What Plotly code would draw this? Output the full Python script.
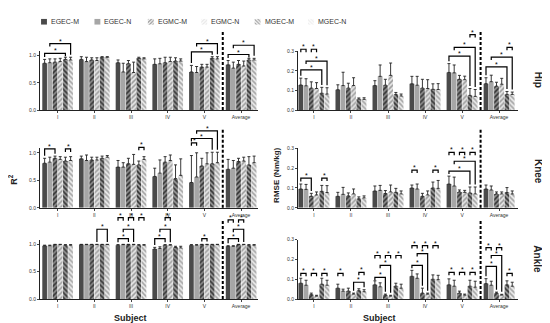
import plotly.graph_objects as go

W, H = 550, 323
series = ["EGEC-M", "EGEC-N", "EGMC-M", "EGMC-N", "MGEC-M", "MGEC-N"]
subjects = ["I", "II", "III", "IV", "V", "Average"]

# values per subject group (series order as above)
hip_r2 = [[0.86, 0.87, 0.88, 0.89, 0.93, 0.92], [0.93, 0.89, 0.92, 0.91, 0.97, 0.97],
          [0.87, 0.70, 0.85, 0.69, 0.95, 0.94], [0.84, 0.85, 0.87, 0.89, 0.90, 0.90],
          [0.70, 0.69, 0.79, 0.79, 0.95, 0.94], [0.83, 0.77, 0.84, 0.81, 0.92, 0.92]]
hip_r2_err = [[0.07, 0.07, 0.06, 0.06, 0.04, 0.05], [0.05, 0.08, 0.04, 0.05, 0.01, 0.01],
              [0.05, 0.16, 0.06, 0.19, 0.02, 0.02], [0.10, 0.10, 0.10, 0.08, 0.06, 0.04],
              [0.12, 0.11, 0.05, 0.05, 0.03, 0.04], [0.08, 0.11, 0.07, 0.09, 0.03, 0.03]]
hip_rmse = [[0.128, 0.124, 0.112, 0.110, 0.086, 0.082], [0.104, 0.125, 0.112, 0.125, 0.056, 0.055],
            [0.125, 0.172, 0.127, 0.177, 0.080, 0.072], [0.134, 0.127, 0.112, 0.110, 0.106, 0.105],
            [0.192, 0.190, 0.157, 0.155, 0.075, 0.070], [0.135, 0.145, 0.122, 0.132, 0.080, 0.080]]
hip_rmse_err = [[0.035, 0.036, 0.032, 0.030, 0.030, 0.032], [0.025, 0.068, 0.025, 0.040, 0.006, 0.008],
                [0.025, 0.058, 0.030, 0.063, 0.010, 0.010], [0.038, 0.045, 0.045, 0.045, 0.028, 0.030],
                [0.045, 0.040, 0.020, 0.018, 0.035, 0.035], [0.030, 0.033, 0.020, 0.030, 0.015, 0.012]]
knee_r2 = [[0.81, 0.83, 0.90, 0.88, 0.85, 0.86], [0.89, 0.86, 0.87, 0.87, 0.90, 0.92],
           [0.74, 0.74, 0.80, 0.79, 0.78, 0.88], [0.57, 0.63, 0.83, 0.86, 0.53, 0.59],
           [0.46, 0.56, 0.76, 0.80, 0.80, 0.82], [0.70, 0.72, 0.84, 0.85, 0.78, 0.82]]
knee_r2_err = [[0.09, 0.09, 0.04, 0.05, 0.07, 0.07], [0.05, 0.10, 0.05, 0.05, 0.04, 0.03],
               [0.12, 0.08, 0.10, 0.18, 0.07, 0.05], [0.15, 0.24, 0.10, 0.10, 0.25, 0.30],
               [0.49, 0.44, 0.14, 0.20, 0.21, 0.19], [0.18, 0.14, 0.06, 0.07, 0.15, 0.12]]
knee_rmse = [[0.095, 0.093, 0.058, 0.065, 0.083, 0.077], [0.058, 0.068, 0.060, 0.070, 0.045, 0.050],
             [0.085, 0.088, 0.072, 0.080, 0.078, 0.070], [0.100, 0.095, 0.058, 0.065, 0.100, 0.098],
             [0.120, 0.110, 0.080, 0.078, 0.075, 0.070], [0.095, 0.090, 0.070, 0.070, 0.077, 0.070]]
knee_rmse_err = [[0.025, 0.025, 0.015, 0.015, 0.030, 0.035], [0.020, 0.035, 0.015, 0.025, 0.010, 0.010],
                 [0.025, 0.025, 0.015, 0.035, 0.020, 0.015], [0.015, 0.025, 0.015, 0.020, 0.030, 0.040],
                 [0.040, 0.045, 0.010, 0.010, 0.030, 0.035], [0.020, 0.020, 0.010, 0.010, 0.025, 0.015]]
ankle_r2 = [[0.97, 0.97, 0.99, 0.99, 0.98, 0.98], [0.99, 0.99, 0.99, 0.99, 0.99, 0.99],
            [0.98, 0.99, 0.99, 0.99, 0.98, 0.98], [0.91, 0.92, 0.98, 0.98, 0.94, 0.93],
            [0.98, 0.98, 0.99, 0.99, 0.99, 0.99], [0.96, 0.96, 0.99, 0.99, 0.98, 0.98]]
ankle_r2_err = [[0.01, 0.01, 0.005, 0.005, 0.01, 0.01], [0.005, 0.005, 0.005, 0.005, 0.005, 0.005],
                [0.01, 0.005, 0.005, 0.005, 0.01, 0.01], [0.03, 0.03, 0.01, 0.01, 0.02, 0.03],
                [0.01, 0.01, 0.005, 0.005, 0.005, 0.005], [0.01, 0.01, 0.005, 0.005, 0.01, 0.01]]
ankle_rmse = [[0.080, 0.070, 0.022, 0.015, 0.075, 0.070], [0.055, 0.040, 0.040, 0.025, 0.042, 0.037],
              [0.072, 0.062, 0.020, 0.015, 0.065, 0.055], [0.115, 0.105, 0.030, 0.025, 0.100, 0.098],
              [0.072, 0.065, 0.030, 0.020, 0.065, 0.060], [0.078, 0.070, 0.030, 0.020, 0.072, 0.065]]
ankle_rmse_err = [[0.025, 0.025, 0.008, 0.004, 0.030, 0.025], [0.020, 0.010, 0.015, 0.005, 0.010, 0.010],
                  [0.020, 0.020, 0.005, 0.004, 0.015, 0.020], [0.030, 0.022, 0.025, 0.005, 0.022, 0.022],
                  [0.030, 0.030, 0.010, 0.005, 0.030, 0.030], [0.025, 0.020, 0.005, 0.004, 0.020, 0.020]]

# significance comparisons: (subject index, series a, series b, bracket level)
hip_r2_sig = [(0, 0, 4, 1.04), (0, 1, 5, 1.22), (4, 0, 4, 1.07), (4, 1, 5, 1.22), (5, 0, 4, 1.02), (5, 1, 5, 1.19)]
hip_rmse_sig = [(0, 0, 1, 0.31), (0, 2, 3, 0.31), (0, 0, 4, 0.205), (0, 1, 5, 0.25), (4, 0, 4, 0.275),
                (4, 1, 5, 0.32), (4, 4, 5, 0.385), (5, 0, 4, 0.22), (5, 1, 5, 0.27), (5, 4, 5, 0.32)]
knee_r2_sig = [(0, 0, 2, 1.07), (0, 4, 5, 1.07), (2, 4, 5, 1.10), (4, 0, 1, 1.18), (4, 0, 4, 1.26), (4, 1, 5, 1.40)]
knee_rmse_sig = [(0, 0, 2, 0.15), (0, 4, 5, 0.15), (3, 0, 1, 0.19), (3, 4, 5, 0.19), (4, 0, 4, 0.185),
                 (4, 1, 5, 0.235), (4, 0, 1, 0.28), (4, 2, 3, 0.28), (4, 4, 5, 0.28)]
ankle_r2_sig = [(1, 3, 5, 1.27), (2, 0, 2, 1.10), (2, 1, 3, 1.27), (2, 0, 1, 1.48), (2, 2, 3, 1.48),
                (2, 4, 5, 1.48), (3, 0, 2, 1.10), (3, 1, 3, 1.27), (3, 2, 3, 1.48), (4, 2, 3, 1.10),
                (5, 0, 2, 1.10), (5, 1, 3, 1.27), (5, 0, 1, 1.44), (5, 2, 3, 1.44)]
ankle_rmse_sig = [(0, 0, 1, 0.13), (0, 2, 3, 0.13), (0, 4, 5, 0.13), (1, 0, 1, 0.13), (1, 3, 5, 0.085),
                  (1, 4, 5, 0.135), (2, 0, 2, 0.11), (2, 1, 3, 0.17), (2, 0, 1, 0.22), (2, 2, 3, 0.22),
                  (2, 4, 5, 0.22), (3, 0, 2, 0.17), (3, 1, 3, 0.23), (3, 0, 1, 0.27), (3, 2, 3, 0.27),
                  (3, 4, 5, 0.27), (4, 0, 1, 0.135), (4, 2, 3, 0.135), (4, 4, 5, 0.135), (5, 0, 2, 0.165),
                  (5, 1, 3, 0.22), (5, 0, 1, 0.26), (5, 2, 3, 0.26), (5, 4, 5, 0.13)]

panels = [  # (row, col, values, errors, significance)
    (0, 0, hip_r2, hip_r2_err, hip_r2_sig), (0, 1, hip_rmse, hip_rmse_err, hip_rmse_sig),
    (1, 0, knee_r2, knee_r2_err, knee_r2_sig), (1, 1, knee_rmse, knee_rmse_err, knee_rmse_sig),
    (2, 0, ankle_r2, ankle_r2_err, ankle_r2_sig), (2, 1, ankle_rmse, ankle_rmse_err, ankle_rmse_sig),
]
row_labels = ["Hip", "Knee", "Ankle"]

# styles
FONT = "Liberation Sans, Arial, sans-serif"
bar_colors = ["#4a4a4a", "#a6a6a6", "#8a8a8a", "#e4e4e4", "#9a9a9a", "#ececec"]
pat_shapes = ["", "", "/", "/", "\\", "\\"]
pat_fg = ["#4a4a4a", "#a6a6a6", "#333333", "#9c9c9c", "#353535", "#a4a4a4"]
BARGAP = 0.15
col_px = {0: (32, 250), 1: (290, 510)}
row_px = {0: (41, 101), 1: (140, 200.5), 2: (233, 293.5)}
xr = {0: [-0.48, 5.46], 1: [-0.43, 5.51]}
yr = {0: [0, 1.08], 1: [0, 0.3]}
dash_top = {0: 1.45, 1: 0.40}
ticks_y = {0: ([0, 0.5, 1.0], ["0.0", "0.5", "1.0"]), 1: ([0, 0.1, 0.2, 0.3], ["0.0", "0.1", "0.2", "0.3"])}


def px_xy(col, row, xd, yd):
    x0, x1 = col_px[col]
    a, b = xr[col]
    ytop, ybot = row_px[row]
    c, d = yr[col]
    return x0 + (xd - a) / (b - a) * (x1 - x0), ybot - (yd - c) / (d - c) * (ybot - ytop)


def bar_x(g, s):
    gw = 1 - BARGAP
    return g - gw / 2 + (s + 0.5) * gw / 6


def pattern(s):
    return dict(shape=pat_shapes[s], bgcolor=bar_colors[s], fgcolor=pat_fg[s], size=3.5,
                solidity=0.45, fillmode="replace")


fig = go.Figure()
shapes, annotations = [], []
layout_axes = {}

for pi, (row, col, vals, errs, sig) in enumerate(panels):
    idx = pi + 1
    xa = "x" if idx == 1 else f"x{idx}"
    ya = "y" if idx == 1 else f"y{idx}"
    for s, name in enumerate(series):
        fig.add_trace(go.Bar(
            x=list(range(len(subjects))), y=[v[s] for v in vals], name=name,
            marker=dict(color=bar_colors[s], line=dict(width=0), pattern=pattern(s)),
            xaxis=xa, yaxis=ya, showlegend=False,
            error_y=dict(type="data", array=[e[s] for e in errs], arrayminus=[0] * 6, symmetric=False,
                         color="#222222", thickness=0.9, width=1.5),
        ))
    x0, x1 = col_px[col]
    ytop, ybot = row_px[row]
    key = "" if idx == 1 else str(idx)
    layout_axes["xaxis" + key] = dict(
        domain=[x0 / W, x1 / W], range=xr[col], anchor=ya, tickmode="array",
        tickvals=list(range(6)), ticktext=subjects, ticks="outside", ticklen=2, tickwidth=0.8,
        tickfont=dict(size=5, color="#333"), showline=True, linecolor="#222", linewidth=1,
        showgrid=False, zeroline=False, fixedrange=True,
    )
    tv, tt = ticks_y[col]
    layout_axes["yaxis" + key] = dict(
        domain=[1 - ybot / H, 1 - ytop / H], range=yr[col], anchor=xa, tickmode="array",
        tickvals=tv, ticktext=tt, ticks="outside", ticklen=2, tickwidth=0.8,
        tickfont=dict(size=5, color="#333"), showline=True, linecolor="#222", linewidth=1,
        showgrid=False, zeroline=False,
    )
    # dashed separator before "Average"
    dx, dy0 = px_xy(col, row, 4.5, 0)
    _, dy1 = px_xy(col, row, 4.5, dash_top[col])
    shapes.append(dict(type="line", xref="paper", yref="paper", x0=dx / W, x1=dx / W,
                       y0=1 - dy0 / H, y1=1 - dy1 / H, line=dict(color="black", width=2, dash="3px,2px")))
    # significance brackets
    for (g, sa, sb, lvl) in sig:
        xa_d, xb_d = bar_x(g, sa), bar_x(g, sb)
        pxa, py = px_xy(col, row, xa_d, lvl)
        pxb, _ = px_xy(col, row, xb_d, lvl)
        legs = []
        for s_end, xd in ((sa, xa_d), (sb, xb_d)):
            covered = any(g2 == g and l2 < lvl and bar_x(g2, a2) - 0.01 <= xd <= bar_x(g2, b2) + 0.01
                          for (g2, a2, b2, l2) in sig)
            _, ptop = px_xy(col, row, xd, vals[g][s_end] + errs[g][s_end])
            bottom = ptop - 2.5
            if covered or (sb - sa) == 1 or bottom - py < 3:
                bottom = py + 3
            legs.append(bottom)
        path = (f"M{pxa / W:.5f},{1 - legs[0] / H:.5f} L{pxa / W:.5f},{1 - py / H:.5f} "
                f"L{pxb / W:.5f},{1 - py / H:.5f} L{pxb / W:.5f},{1 - legs[1] / H:.5f}")
        shapes.append(dict(type="path", xref="paper", yref="paper", path=path,
                           line=dict(color="black", width=1.2)))
        annotations.append(dict(x=(pxa + pxb) / 2 / W, y=1 - py / H, xref="paper", yref="paper",
                                text="*", showarrow=False, xanchor="center", yanchor="bottom",
                                font=dict(size=7, family=FONT, color="black"), yshift=-3))

# legend built as a small swatch axis
fig.add_trace(go.Bar(
    x=series, y=[1] * len(series), width=[0.11] * len(series), xaxis="x7", yaxis="y7", showlegend=False,
    marker=dict(color=bar_colors, line=dict(width=0),
                pattern=dict(shape=pat_shapes, bgcolor=bar_colors, fgcolor=pat_fg, size=2.5,
                             solidity=0.45, fillmode="replace")),
    hoverinfo="skip",
))
layout_axes["xaxis7"] = dict(domain=[9.3 / W, 329.7 / W], range=[-0.5, 5.5], anchor="y7", visible=False,
                             type="category", categoryorder="array", categoryarray=series)
layout_axes["yaxis7"] = dict(domain=[1 - 14 / H, 1 - 8 / H], range=[0, 1], anchor="x7", visible=False)
for name in series:
    annotations.append(dict(x=name, y=0.5, xref="x7", yref="y7", text=name, showarrow=False,
                            xanchor="left", yanchor="middle", xshift=5,
                            font=dict(size=7, family=FONT, color="#333")))

# titles
for col, cx in ((0, 122), (1, 371)):
    annotations.append(dict(x=cx / W, y=1 - 313 / H, xref="paper", yref="paper", text="<b>Subject</b>",
                            showarrow=False, xanchor="center", yanchor="middle",
                            font=dict(size=9, family=FONT, color="#222")))
annotations.append(dict(x=5 / W, y=1 - 172 / H, xref="paper", yref="paper", text="<b>R<sup>2</sup></b>",
                        showarrow=False, textangle=-90, xanchor="center", yanchor="middle",
                        font=dict(size=9, family=FONT, color="#222")))
annotations.append(dict(x=269 / W, y=1 - 168 / H, xref="paper", yref="paper", text="<b>RMSE (Nm/kg)</b>",
                        showarrow=False, textangle=-90, xanchor="center", yanchor="middle",
                        font=dict(size=8, family=FONT, color="#222")))
for lab, cy in zip(row_labels, (70, 163, 253)):
    annotations.append(dict(x=530 / W, y=1 - cy / H, xref="paper", yref="paper", text=f"<b>{lab}</b>",
                            showarrow=False, textangle=90, xanchor="center", yanchor="middle",
                            font=dict(size=10, family=FONT, color="#222")))

fig.update_layout(
    width=W, height=H, margin=dict(l=0, r=0, t=0, b=0), paper_bgcolor="white", plot_bgcolor="white",
    barmode="group", bargap=BARGAP, bargroupgap=0.1, font=dict(family=FONT, size=6, color="#333"),
    showlegend=False, shapes=shapes, annotations=annotations, **layout_axes,
)
fig.write_html("out.html")
